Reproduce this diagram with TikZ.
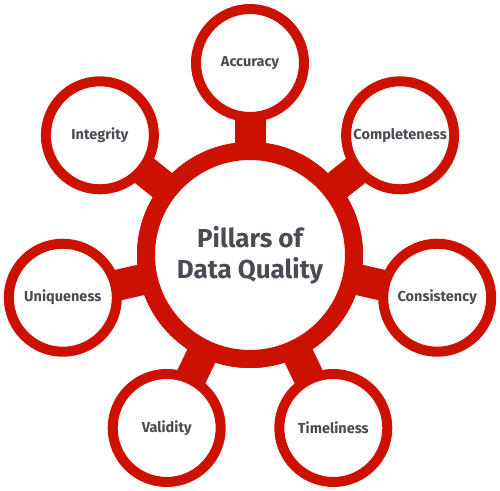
\documentclass[tikz,border=0pt]{standalone}
\usepackage{fontspec}
\setmainfont{Fira Sans}
\usetikzlibrary{calc}
\definecolor{ringred}{HTML}{CC1100}
\definecolor{txtgray}{HTML}{4A4B53}
\begin{document}
\begin{tikzpicture}[x=1pt,y=1pt,
  hub/.style={circle,draw=ringred,fill=white,line width=18pt,minimum size=208pt,inner sep=0pt,
    font=\fontsize{26}{31}\selectfont\bfseries,text=txtgray,align=center},
  pillar/.style={circle,draw=ringred,fill=white,line width=10pt,minimum size=108pt,inner sep=0pt,
    font=\fontsize{14.5}{17}\selectfont\bfseries,text=txtgray},
  stem/.style={draw=ringred,line width=31pt}]
\useasboundingbox (0,0) rectangle (500,490);
\coordinate (o) at (250,235);
\foreach \name [count=\i from 0] in {acc,com,con,tim,val,uni,int}{
  \coordinate (\name pos) at ($(o)+({90-\i*360/7}:192)$);
}
\node[hub] (hub) at (o) {};
\foreach \name in {acc,com,con,tim,val,uni,int}{
  \draw[stem] (hub.center) -- (\name pos);
}
\node[hub] (hubc) at (o) {Pillars of\\Data Quality};
\node[pillar] (acc) at (accpos) {Accuracy};
\node[pillar] (com) at (compos) {Completeness};
\node[pillar] (con) at (conpos) {Consistency};
\node[pillar] (tim) at (timpos) {Timeliness};
\node[pillar] (val) at (valpos) {Validity};
\node[pillar] (uni) at (unipos) {Uniqueness};
\node[pillar] (int) at (intpos) {Integrity};
\end{tikzpicture}
\end{document}
